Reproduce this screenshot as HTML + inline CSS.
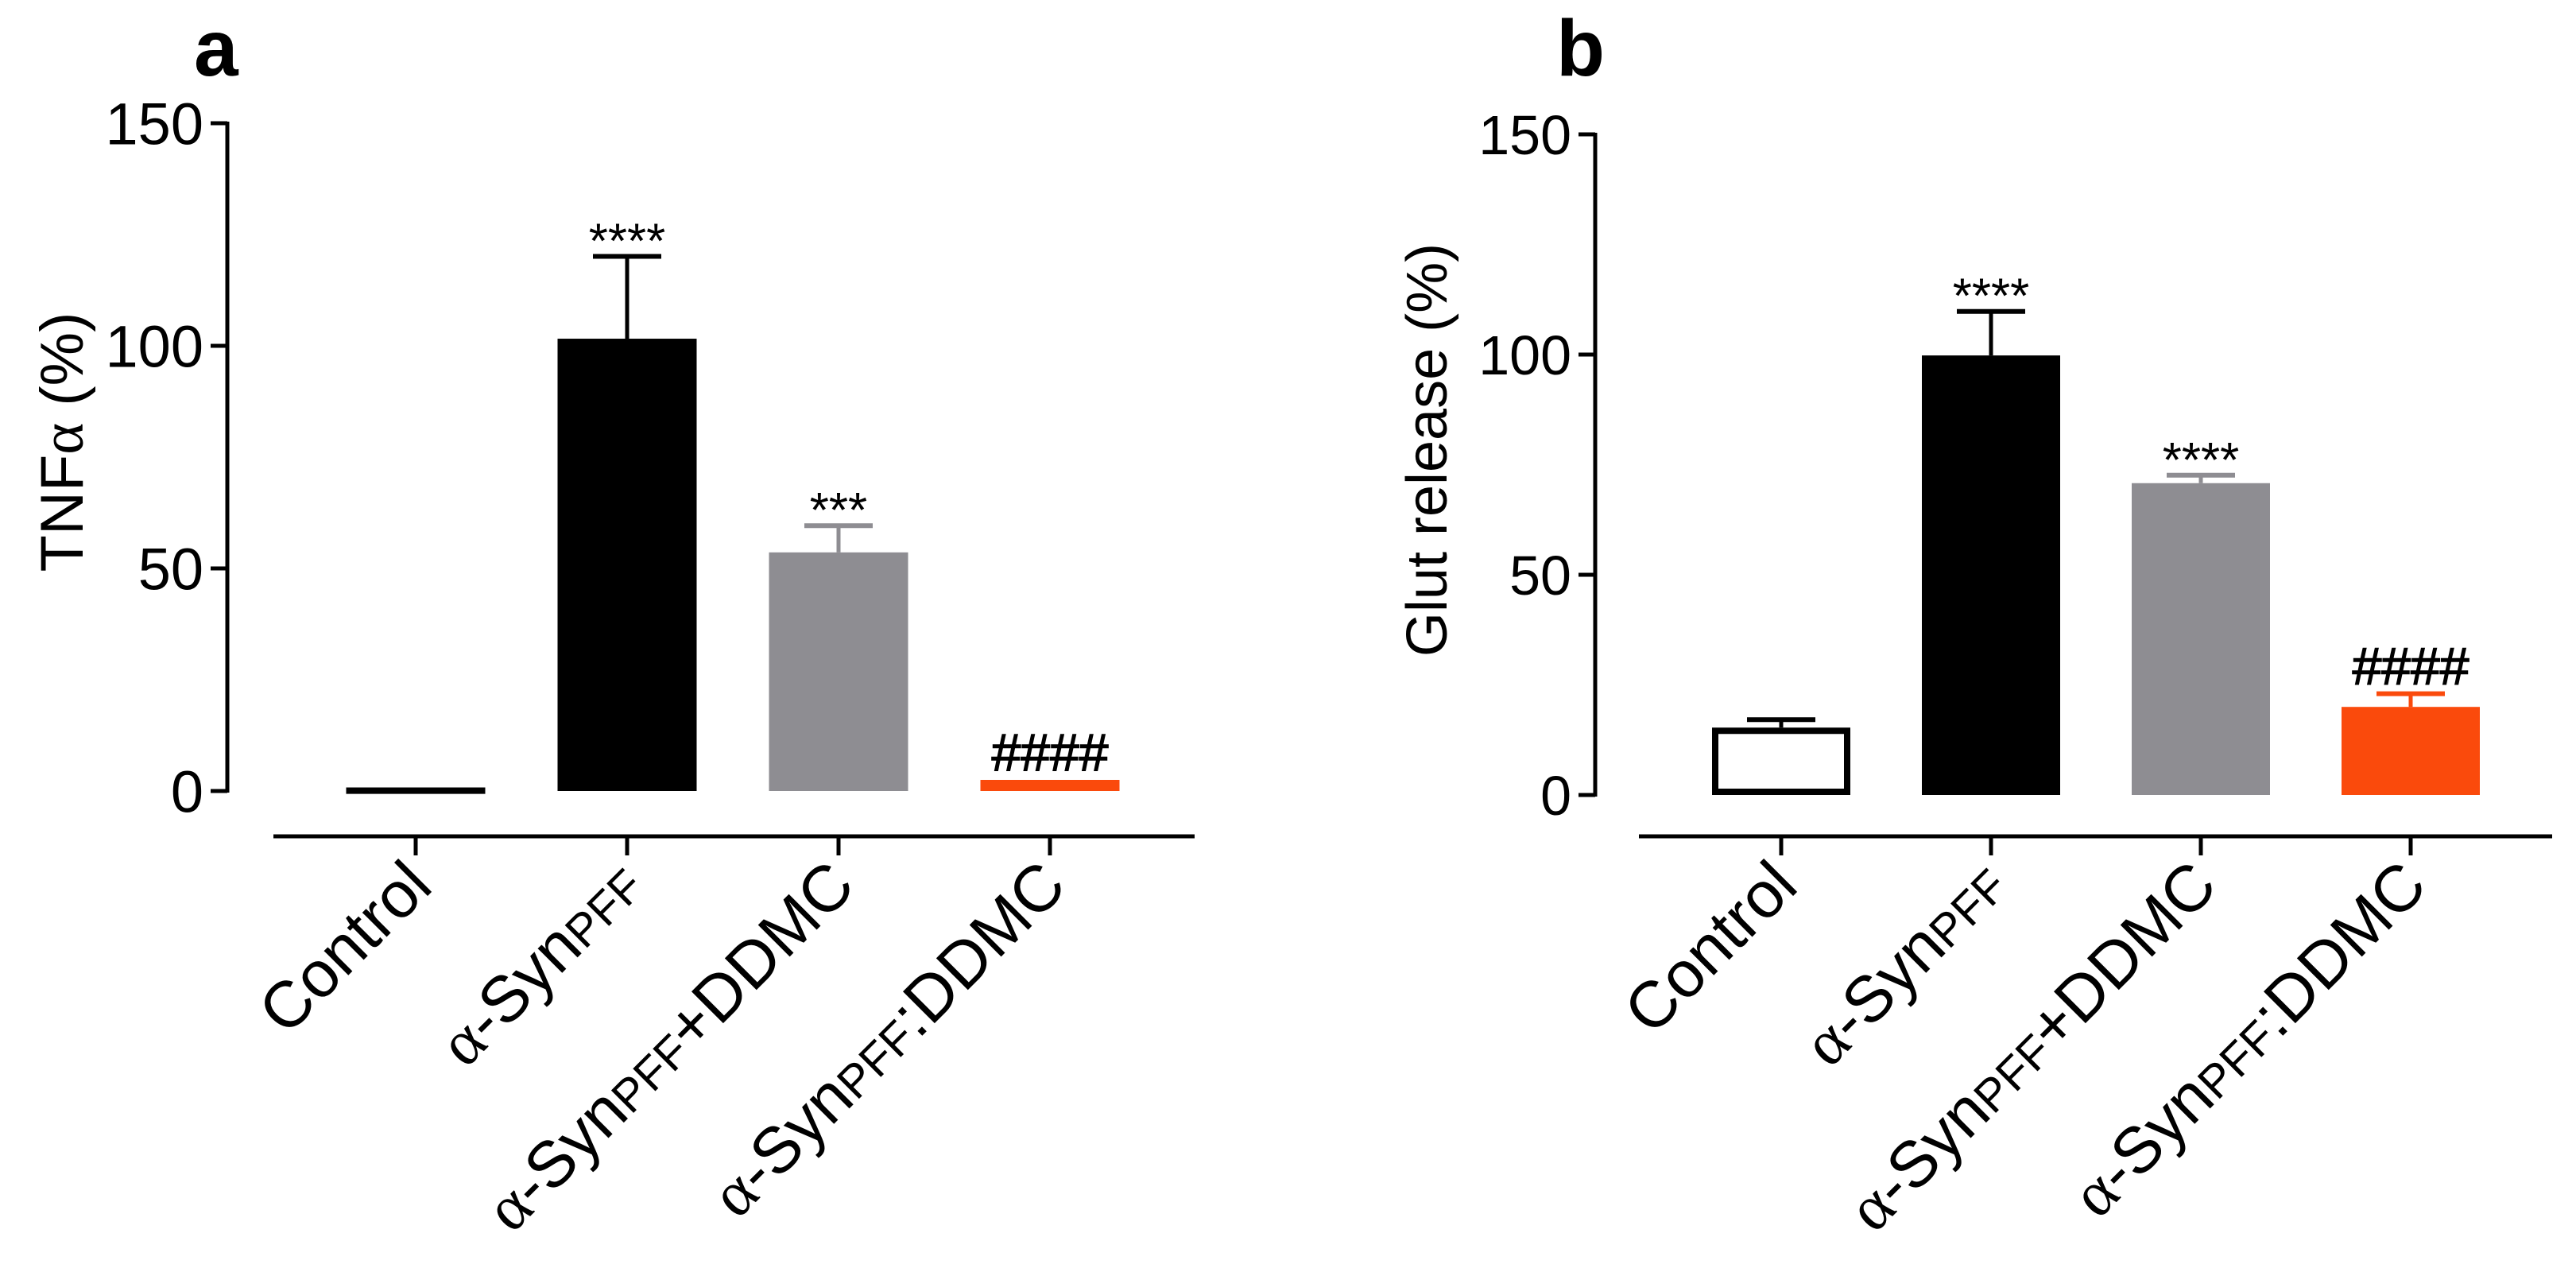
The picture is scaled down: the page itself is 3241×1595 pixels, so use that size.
<!DOCTYPE html>
<html><head><meta charset="utf-8"><style>
html,body{margin:0;padding:0;background:#fff;}
svg{display:block;font-family:"Liberation Sans",Arial,sans-serif;}
</style></head><body>
<svg id="chart" width="3241" height="1595" viewBox="0 0 3241 1595" xmlns="http://www.w3.org/2000/svg">
<text x="244" y="95" font-size="100" font-weight="bold">a</text>
<text x="1958" y="95" font-size="100" font-weight="bold">b</text>
<text transform="translate(104,556) rotate(-90)" text-anchor="middle" font-size="76">TNF<tspan font-family="Liberation Serif,serif">α</tspan> (%)</text>
<text transform="translate(1820,566) rotate(-90)" text-anchor="middle" font-size="72">Glut release (%)</text>
<g id="pa"></g>
<g id="pb"></g>
</svg>
<script>
const categories = ["Control", "α-SynPFF", "α-SynPFF+DDMC", "α-SynPFF:DDMC"];
const tnfValues = [0.8, 101.6, 53.6, 2.5];
const tnfErrors = [0, 18.5, 6, 0];
const tnfMarks = ["", "****", "***", "####"];
const glutValues = [15.3, 99.8, 70.8, 20];
const glutErrors = [1.8, 10, 1.8, 3];
const glutMarks = ["", "****", "****", "####"];
const yTicks = [0, 50, 100, 150];
const fills = ["#fff", "#000", "#8e8d92", "#fa4a0c"];
const strokes = ["#000", "#000", "#8e8d92", "#fa4a0c"];
const NS = "http://www.w3.org/2000/svg";
function mk(parent, tag, attrs){const e=document.createElementNS(NS,tag);for(const k in attrs)e.setAttribute(k,attrs[k]);parent.appendChild(e);return e;}

function drawPanel(g, cfg, values, errors, marks){
  const y = v => cfg.y0 - (v/150)*(cfg.y0-cfg.y150);
  const x = i => cfg.x0 + i*cfg.step;
  let ax = mk(g,'line',{x1:cfg.ax,y1:y(150)-2,x2:cfg.ax,y2:y(0)+2,stroke:'#000','stroke-width':5});
  
  
  yTicks.forEach(t=>{
    const tl = mk(g,'line',{x1:cfg.ax-21,y1:y(t),x2:cfg.ax,y2:y(t),stroke:'#000','stroke-width':5});
    
    
    const tx = mk(g,'text',{x:cfg.ax-30,y:y(t)+cfg.tf*0.36,'text-anchor':'end','font-size':cfg.tf});
    tx.textContent = t;
    
    
  });
  const xl = mk(g,'line',{x1:cfg.xa1,y1:1052,x2:cfg.xa2,y2:1052,stroke:'#000','stroke-width':5});
  
  
  categories.forEach((c,i)=>{
    const cx = x(i);
    const tk = mk(g,'line',{x1:cx,y1:1052,x2:cx,y2:1076,stroke:'#000','stroke-width':5});
    
    
    const v = values[i], e = errors[i];
    const bw = cfg.bw;
    let r;
    if(i===0){
      r = mk(g,'rect',{x:cx-bw/2+4,y:y(v)+4,width:bw-8,height:Math.max(y(0)-y(v)-8,0.1),fill:'#fff',stroke:'#000','stroke-width':8});
    } else {
      r = mk(g,'rect',{x:cx-bw/2,y:y(v),width:bw,height:y(0)-y(v),fill:fills[i]});
    }
    
    
    if(e>0){
      const el = mk(g,'line',{x1:cx,y1:y(v),x2:cx,y2:y(v+e),stroke:strokes[i],'stroke-width':5});
      
      
      const cap = mk(g,'line',{x1:cx-43,y1:y(v+e),x2:cx+43,y2:y(v+e),stroke:strokes[i],'stroke-width':6});
      
      
    }
    if(marks[i]){
      const isHash = marks[i][0]==='#';
      const m = mk(g,'text',{x:cx,y:isHash ? y(v+e)-12 : y(v+e)+2,'text-anchor':'middle','font-size':isHash?66:62,'stroke':isHash?'#000':'none','stroke-width':isHash?1.5:0});
      m.textContent = marks[i];
      
      
    }
    const lt = mk(g,'text',{transform:`translate(${cx+24},${1118}) rotate(-45)`,'text-anchor':'end','font-size':82});
    
    
    if(c==="Control"){ lt.textContent = c; }
    else {
      const a = mk(lt,'tspan',{'font-family':'Liberation Serif,serif'}); a.textContent='α';
      const s = mk(lt,'tspan',{}); s.textContent='-Syn';
      const p = mk(lt,'tspan',{'font-size':58}); p.textContent='PFF';
      const rest = c.replace('α-SynPFF','');
      if(rest){ const q = mk(lt,'tspan',{}); q.textContent = rest; }
    }
  });
}
drawPanel(document.getElementById('pa'),{ax:286,y0:995,y150:155,x0:523,step:266,bw:175,xa1:344,xa2:1503,tf:74},tnfValues,tnfErrors,tnfMarks);
drawPanel(document.getElementById('pb'),{ax:2007,y0:1000,y150:169,x0:2241,step:264,bw:174,xa1:2062,xa2:3211,tf:70},glutValues,glutErrors,glutMarks);
</script>
</body></html>
